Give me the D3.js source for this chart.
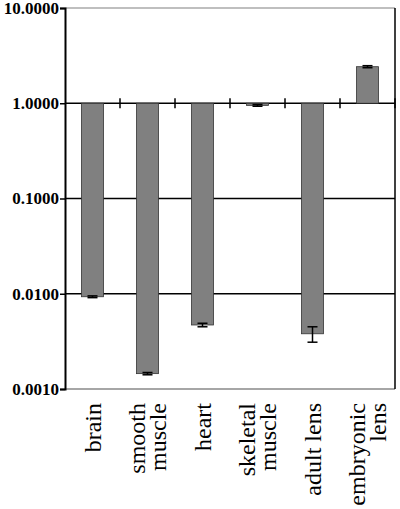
<!DOCTYPE html>
<html>
<head>
<meta charset="utf-8">
<script src="https://cdn.jsdelivr.net/npm/d3@7"></script>
<style>
  body { margin: 0; background: #fff; }
  svg { display: block; }
</style>
</head>
<body>
<div id="chart"></div>
<script>
var width = 400,
    height = 509;

var categories = [["brain"], ["smooth", "muscle"], ["heart"], ["skeletal", "muscle"], ["adult lens"], ["embryonic", "lens"]];
var values = [0.0093, 0.00145, 0.0047, 0.95, 0.0038, 2.42];
var errors = [0.0002, 0.00004, 0.0002, 0.02, 0.0007, 0.06];
var yTicks = [0.001, 0.01, 0.1, 1, 10];

// note: "top" is a reserved window global, so use plot* names
var plotLeft = 65, plotRight = 395, plotTop = 8, plotBottom = 389;

var x = d3.scaleBand()
    .domain(d3.range(categories.length))
    .range([plotLeft, plotRight])
    .paddingInner(0.6)
    .paddingOuter(0.3);

var y = d3.scaleLog()
    .domain([0.001, 10])
    .range([plotBottom, plotTop]);

var svg = d3.select("#chart").append("svg")
    .attr("width", width)
    .attr("height", height);

// frame top / bottom (grey)
svg.append("line")
    .attr("x1", plotLeft).attr("x2", plotRight)
    .attr("y1", y(10)).attr("y2", y(10))
    .attr("stroke", "#aaa").attr("stroke-width", 1.5);
svg.append("line")
    .attr("x1", plotLeft).attr("x2", plotRight)
    .attr("y1", y(0.001)).attr("y2", y(0.001))
    .attr("stroke", "#888").attr("stroke-width", 1.5);
// right edge
svg.append("line")
    .attr("x1", plotRight).attr("x2", plotRight)
    .attr("y1", plotTop).attr("y2", plotBottom)
    .attr("stroke", "#000").attr("stroke-width", 1.5);

// gridlines
svg.selectAll(".grid")
    .data([0.01, 0.1, 1])
    .enter().append("line")
    .attr("class", "grid")
    .attr("x1", plotLeft).attr("x2", plotRight)
    .attr("y1", function(d) { return y(d); })
    .attr("y2", function(d) { return y(d); })
    .attr("stroke", "#000")
    .attr("stroke-width", 1.5);

// category ticks on the 1.0 line
var bounds = d3.range(1, categories.length).map(function(i) {
    return plotLeft + x.step() * i;
}).concat([plotRight]);
svg.selectAll(".ctick")
    .data(bounds)
    .enter().append("line")
    .attr("class", "ctick")
    .attr("x1", function(d) { return d; })
    .attr("x2", function(d) { return d; })
    .attr("y1", y(1) - 5)
    .attr("y2", y(1) + 5)
    .attr("stroke", "#000")
    .attr("stroke-width", 1.5);

// bars
svg.selectAll(".bar")
    .data(values)
    .enter().append("rect")
    .attr("class", "bar")
    .attr("x", function(d, i) { return x(i); })
    .attr("width", x.bandwidth())
    .attr("y", function(d) { return Math.min(y(d), y(1)); })
    .attr("height", function(d) { return Math.max(Math.abs(y(d) - y(1)), 2); })
    .attr("fill", "#808080")
    .attr("stroke", "#333")
    .attr("stroke-width", 0.8);

// error bars
var eb = svg.selectAll(".err")
    .data(values)
    .enter().append("g")
    .attr("class", "err")
    .attr("stroke", "#000")
    .attr("stroke-width", 1.5);
eb.append("line")
    .attr("x1", function(d, i) { return x(i) + x.bandwidth() / 2; })
    .attr("x2", function(d, i) { return x(i) + x.bandwidth() / 2; })
    .attr("y1", function(d, i) { return y(d + errors[i]); })
    .attr("y2", function(d, i) { return y(d - errors[i]); });
eb.each(function(d, i) {
    var g = d3.select(this);
    [d + errors[i], d - errors[i]].forEach(function(v) {
        g.append("line")
            .attr("x1", x(i) + x.bandwidth() / 2 - 5)
            .attr("x2", x(i) + x.bandwidth() / 2 + 5)
            .attr("y1", y(v))
            .attr("y2", y(v));
    });
});

// y axis
var yAxis = svg.append("g")
    .attr("transform", "translate(" + plotLeft + ",0)")
    .call(d3.axisLeft(y).tickValues(yTicks).tickFormat(d3.format(".4f")).tickSizeOuter(0).tickSize(5));
yAxis.select(".domain").attr("stroke", "#000").attr("stroke-width", 2);
yAxis.selectAll(".tick line").attr("stroke", "#000").attr("stroke-width", 1.5);
yAxis.selectAll(".tick text")
    .attr("x", -6)
    .style("font-family", "'Liberation Serif', 'Times New Roman', serif")
    .style("font-size", "17px")
    .style("font-weight", "bold")
    .attr("fill", "#000");

// category labels, rotated
var labels = svg.selectAll(".clabel")
    .data(categories)
    .enter().append("text")
    .attr("class", "clabel")
    .attr("transform", function(d, i) {
        return "translate(" + (x(i) + x.bandwidth() / 2) + "," + 403 + ") rotate(-90)";
    })
    .attr("text-anchor", "end")
    .style("font-family", "'Liberation Serif', 'Times New Roman', serif")
    .style("font-size", "24px")
    .attr("fill", "#000");
labels.selectAll("tspan")
    .data(function(d) { return d; })
    .enter().append("tspan")
    .attr("x", 0)
    .attr("y", function(d, j, nodes) {
        var n = nodes.length;
        return (j - (n - 1) / 2) * 21 + 8;
    })
    .text(function(d) { return d; });
</script>
</body>
</html>
